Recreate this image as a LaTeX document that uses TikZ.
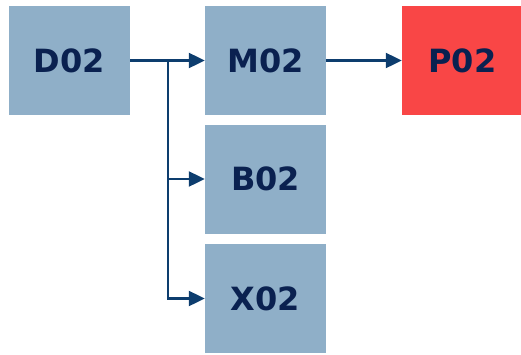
\documentclass[tikz,border=0pt]{standalone}
\usepackage{fontspec}
\setmainfont{DejaVu Sans}
\usetikzlibrary{arrows.meta}

\definecolor{boxblue}{HTML}{8FAFC8}
\definecolor{boxred}{HTML}{F94646}
\definecolor{navy}{HTML}{0A2150}
\definecolor{linkblue}{HTML}{0D3D6E}

\tikzset{
  unit/.style={minimum width=121pt, minimum height=109pt, inner sep=0pt,
    fill=boxblue, text=navy, font=\bfseries\fontsize{32}{32}\selectfont},
  link/.style={-{Triangle[length=16pt,width=15pt]}, draw=linkblue, line width=2.2pt}
}

\begin{document}
\begin{tikzpicture}[x=1pt,y=-1pt]
        \useasboundingbox (0,0) rectangle (521,354);
        \node[unit] (d02) at (69.5,60.5) {D02};
        \node[unit] (m02) at (265.5,60.5) {M02};
        \node[unit,fill=boxred] (p02) at (462.5,60.5) {P02};
        \node[unit] (b02) at (265.5,179) {B02};
        \node[unit] (x02) at (265.5,298.5) {X02};
        \coordinate (split) at (168,60.5);
        \draw[link] (d02) -- (m02);
        \draw[link] (split) |- (b02);
        \draw[link] (split) |- (x02);
        \draw[link] (m02) -- (p02);
    \end{tikzpicture}
\end{document}
